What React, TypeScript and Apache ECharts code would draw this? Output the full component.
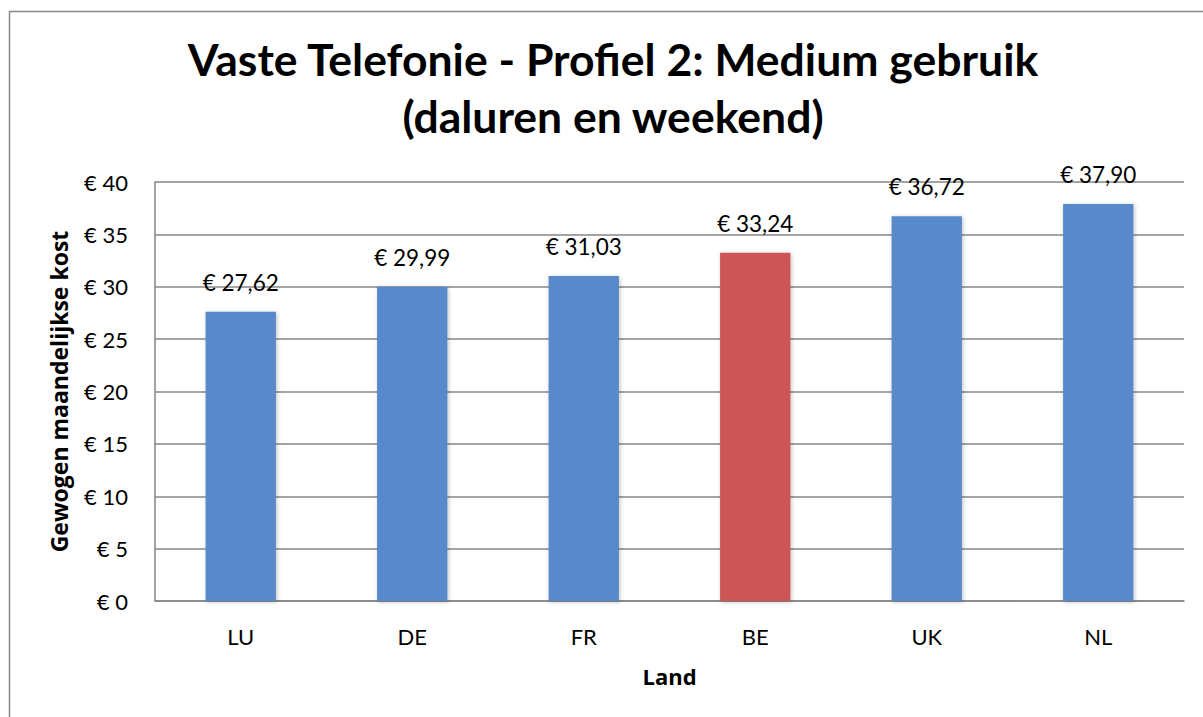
import React, { useEffect, useRef } from "react";
import * as echarts from "echarts";

const categories = ["LU", "DE", "FR", "BE", "UK", "NL"];
const values = [27.62, 29.99, 31.03, 33.24, 36.72, 37.9];
const highlight = "BE";
const yTicks = [0, 5, 10, 15, 20, 25, 30, 35, 40];

const BLUE = "#5889CA";
const RED = "#CB5654";
const FONT = "Lato, 'Open Sans', sans-serif";
const NAME_FONT = "'Open Sans', Lato, sans-serif";

const fmt = (v: number) => "€ " + v.toFixed(2).replace(".", ",");

export default function App() {
  const ref = useRef<HTMLDivElement>(null);
  useEffect(() => {
    if (!ref.current) return;
    const chart = echarts.init(ref.current, null, { renderer: "svg" });
    chart.setOption({
      animation: false,
      backgroundColor: "#ffffff",
      textStyle: { fontFamily: FONT },
      title: {
        text: "Vaste Telefonie - Profiel 2: Medium gebruik\n(daluren en weekend)",
        left: 608,
        textAlign: "center",
        top: 25,
        textStyle: {
          fontFamily: FONT,
          fontWeight: "bold",
          fontSize: 44.5,
          lineHeight: 57,
          color: "#000",
        },
      },
      graphic: [
        {
          type: "rect",
          shape: { x: 9.5, y: 11.5, width: 1210, height: 720 },
          style: { fill: "none", stroke: "#868686", lineWidth: 1.5 },
          silent: true,
          z: -1,
        },
      ],
      grid: { left: 155, right: 19, top: 182, bottom: 116 },
      xAxis: {
        type: "category",
        data: categories,
        name: "Land",
        nameLocation: "middle",
        nameGap: 64,
        nameTextStyle: { fontFamily: NAME_FONT, fontWeight: "bold", fontSize: 22, color: "#000" },
        axisLine: { lineStyle: { color: "#868686", width: 1.5 } },
        axisTick: { show: false },
        axisLabel: { fontFamily: FONT, fontSize: 22, color: "#000", margin: 24 },
      },
      yAxis: {
        type: "value",
        min: yTicks[0],
        max: yTicks[yTicks.length - 1],
        interval: 5,
        name: "Gewogen maandelijkse kost",
        nameLocation: "middle",
        nameGap: 85,
        nameTextStyle: { fontFamily: NAME_FONT, fontWeight: "bold", fontSize: 23, color: "#000" },
        axisLine: { show: true, lineStyle: { color: "#868686", width: 1.5 } },
        axisTick: { show: false },
        splitLine: { lineStyle: { color: "#868686", width: 1.5 } },
        axisLabel: {
          fontFamily: FONT,
          fontSize: 22,
          color: "#000",
          margin: 27,
          formatter: (v: number) => "€ " + v,
        },
      },
      series: [
        {
          type: "bar",
          barWidth: "41%",
          data: values.map((v, i) => ({
            value: v,
            itemStyle: { color: categories[i] === highlight ? RED : BLUE },
          })),
          itemStyle: {
            shadowColor: "rgba(0,0,0,0.25)",
            shadowBlur: 4,
            shadowOffsetX: 1,
            shadowOffsetY: 1,
          },
          label: {
            show: true,
            position: "top",
            distance: 18,
            fontFamily: FONT,
            fontSize: 22.5,
            color: "#000",
            formatter: (p: any) => fmt(p.value),
          },
        },
      ],
    });
    return () => chart.dispose();
  }, []);
  return (
    <div
      ref={ref}
      style={{ position: "fixed", left: 0, top: 0, width: 1203, height: 717 }}
    />
  );
}
